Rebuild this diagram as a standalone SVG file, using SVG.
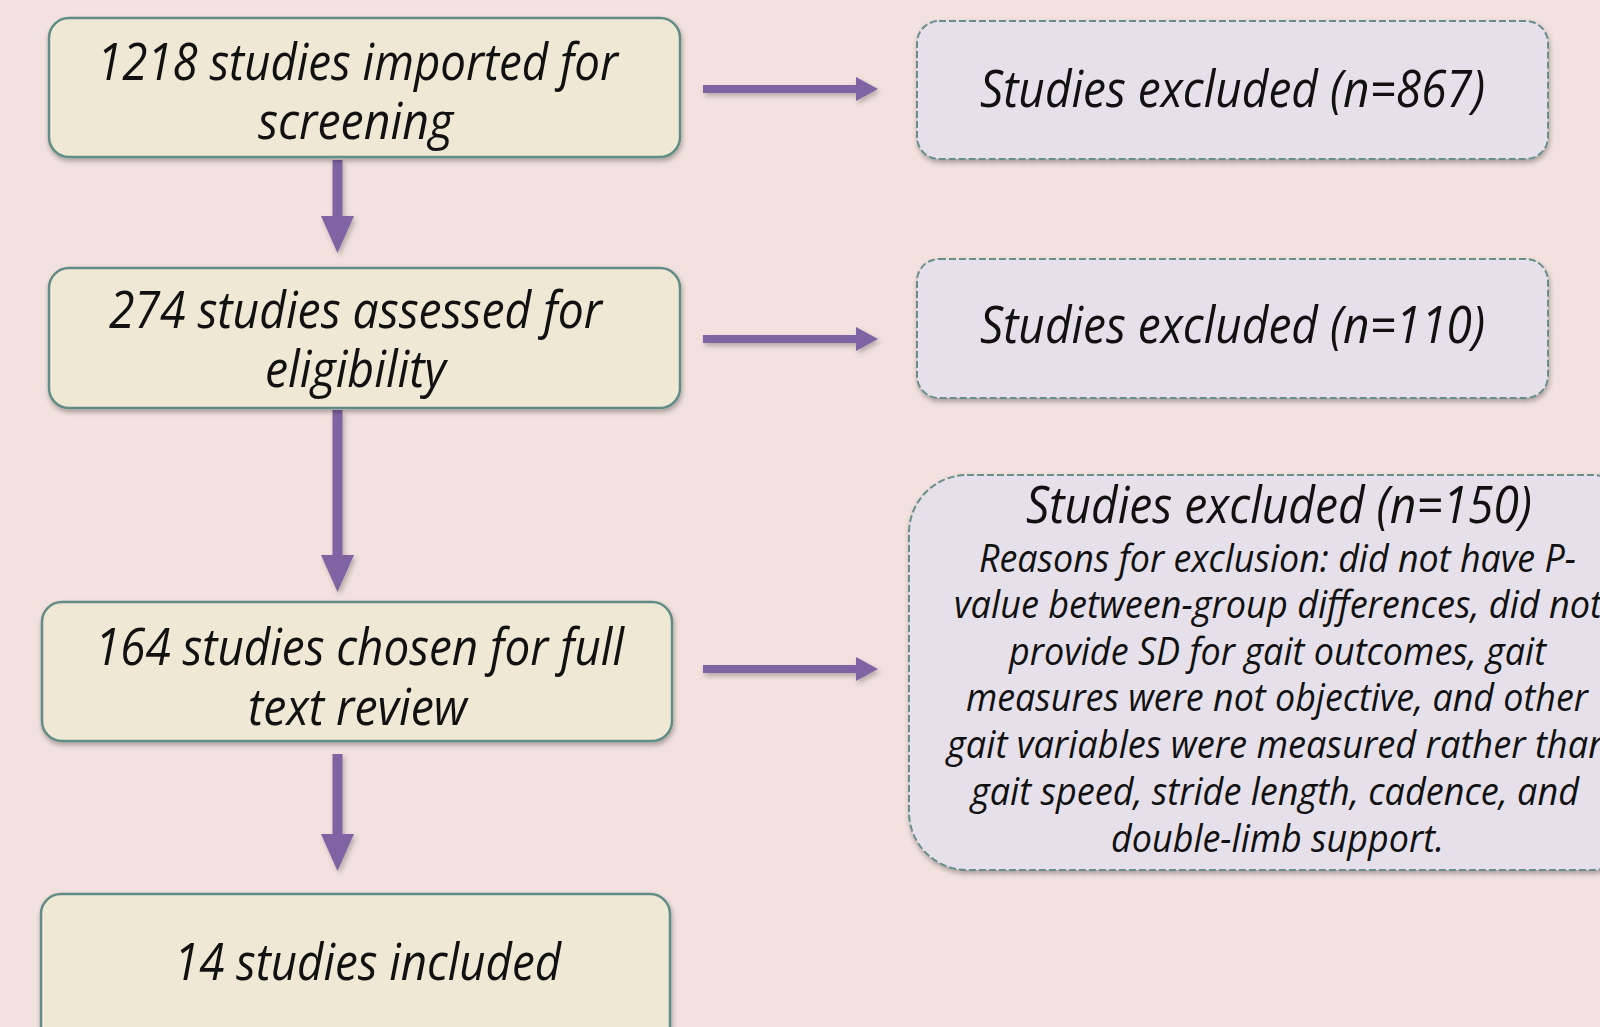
<svg xmlns="http://www.w3.org/2000/svg" width="1600" height="1027" viewBox="0 0 1600 1027">
<defs>
<style>
.bg{fill:#F2E1DE}
.main{fill:#EEE8D5;stroke:#628C86;stroke-width:2.5;filter:url(#sh)}
.excl{fill:#E6E0EA;stroke:#6A8E89;stroke-width:2;stroke-dasharray:7 3;filter:url(#sh)}
text{font-family:"Open Sans","Noto Sans","Liberation Sans",sans-serif;font-style:italic;fill:#111}
.t{font-size:52px}
.s{font-size:39px}
.v{stroke:#8064A2;stroke-width:10;fill:none;marker-end:url(#hv)}
.h{stroke:#8064A2;stroke-width:8;fill:none;marker-end:url(#hh)}
</style>
<filter id="sh" x="-5%" y="-10%" width="110%" height="125%">
<feDropShadow dx="1" dy="3" stdDeviation="2.5" flood-color="#000" flood-opacity="0.3"/>
</filter>
<filter id="sa" filterUnits="userSpaceOnUse" x="0" y="0" width="1600" height="1027">
<feDropShadow dx="2" dy="3" stdDeviation="2.5" flood-color="#000" flood-opacity="0.25"/>
</filter>
<marker id="hv" markerUnits="userSpaceOnUse" markerWidth="37" markerHeight="33" refX="0" refY="16.5" orient="auto" overflow="visible">
<path d="M0,0 L37,16.5 L0,33 Z" fill="#8064A2"/>
</marker>
<marker id="hh" markerUnits="userSpaceOnUse" markerWidth="22" markerHeight="24" refX="0" refY="12" orient="auto" overflow="visible">
<path d="M0,0 L22,12 L0,24 Z" fill="#8064A2"/>
</marker>
</defs>
<rect class="bg" x="0" y="0" width="1600" height="1027"/>

<g id="connectors" filter="url(#sa)">
<line class="v" x1="337.5" y1="160" x2="337.5" y2="216"/>
<line class="v" x1="337.5" y1="410" x2="337.5" y2="555"/>
<line class="v" x1="337.5" y1="754" x2="337.5" y2="834"/>
<line class="h" x1="703" y1="89" x2="856" y2="89"/>
<line class="h" x1="703" y1="339" x2="856" y2="339"/>
<line class="h" x1="703" y1="669" x2="856" y2="669"/>
</g>

<g id="n1">
<rect class="main" x="49" y="18" width="631" height="139" rx="20"/>
<text class="t" x="97" y="80" textLength="521" lengthAdjust="spacingAndGlyphs">1218 studies imported for</text>
<text class="t" x="258" y="139" textLength="195" lengthAdjust="spacingAndGlyphs">screening</text>
</g>

<g id="n2">
<rect class="main" x="49" y="268" width="631" height="140" rx="20"/>
<text class="t" x="109" y="328" textLength="493" lengthAdjust="spacingAndGlyphs">274 studies assessed for</text>
<text class="t" x="265" y="387" textLength="181" lengthAdjust="spacingAndGlyphs">eligibility</text>
</g>

<g id="n3">
<rect class="main" x="42" y="602" width="630" height="139" rx="20"/>
<text class="t" x="95" y="665" textLength="529" lengthAdjust="spacingAndGlyphs">164 studies chosen for full</text>
<text class="t" x="248" y="725" textLength="219" lengthAdjust="spacingAndGlyphs">text review</text>
</g>

<g id="n4">
<rect class="main" x="41" y="894" width="629" height="160" rx="20"/>
<text class="t" x="174" y="980" textLength="387" lengthAdjust="spacingAndGlyphs">14 studies included</text>
</g>

<g id="e1">
<rect class="excl" x="917" y="21" width="631" height="138" rx="22"/>
<text class="t" x="980" y="107" textLength="505" lengthAdjust="spacingAndGlyphs">Studies excluded (n=867)</text>
</g>

<g id="e2">
<rect class="excl" x="917" y="259" width="631" height="139" rx="22"/>
<text class="t" x="980" y="343" textLength="505" lengthAdjust="spacingAndGlyphs">Studies excluded (n=110)</text>
</g>

<g id="e3">
<rect class="excl" x="909" y="475" width="740" height="395" rx="58"/>
<text class="t" x="1026" y="523" textLength="506" lengthAdjust="spacingAndGlyphs">Studies excluded (n=150)</text>
<text class="s" x="979" y="572" textLength="597" lengthAdjust="spacingAndGlyphs">Reasons for exclusion: did not have P-</text>
<text class="s" x="954" y="618" textLength="648" lengthAdjust="spacingAndGlyphs">value between-group differences, did not</text>
<text class="s" x="1009" y="665" textLength="537" lengthAdjust="spacingAndGlyphs">provide SD for gait outcomes, gait</text>
<text class="s" x="966" y="711" textLength="622" lengthAdjust="spacingAndGlyphs">measures were not objective, and other</text>
<text class="s" x="947" y="758" textLength="662" lengthAdjust="spacingAndGlyphs">gait variables were measured rather than</text>
<text class="s" x="971" y="805" textLength="608" lengthAdjust="spacingAndGlyphs">gait speed, stride length, cadence, and</text>
<text class="s" x="1111" y="852" textLength="333" lengthAdjust="spacingAndGlyphs">double-limb support.</text>
</g>
</svg>
